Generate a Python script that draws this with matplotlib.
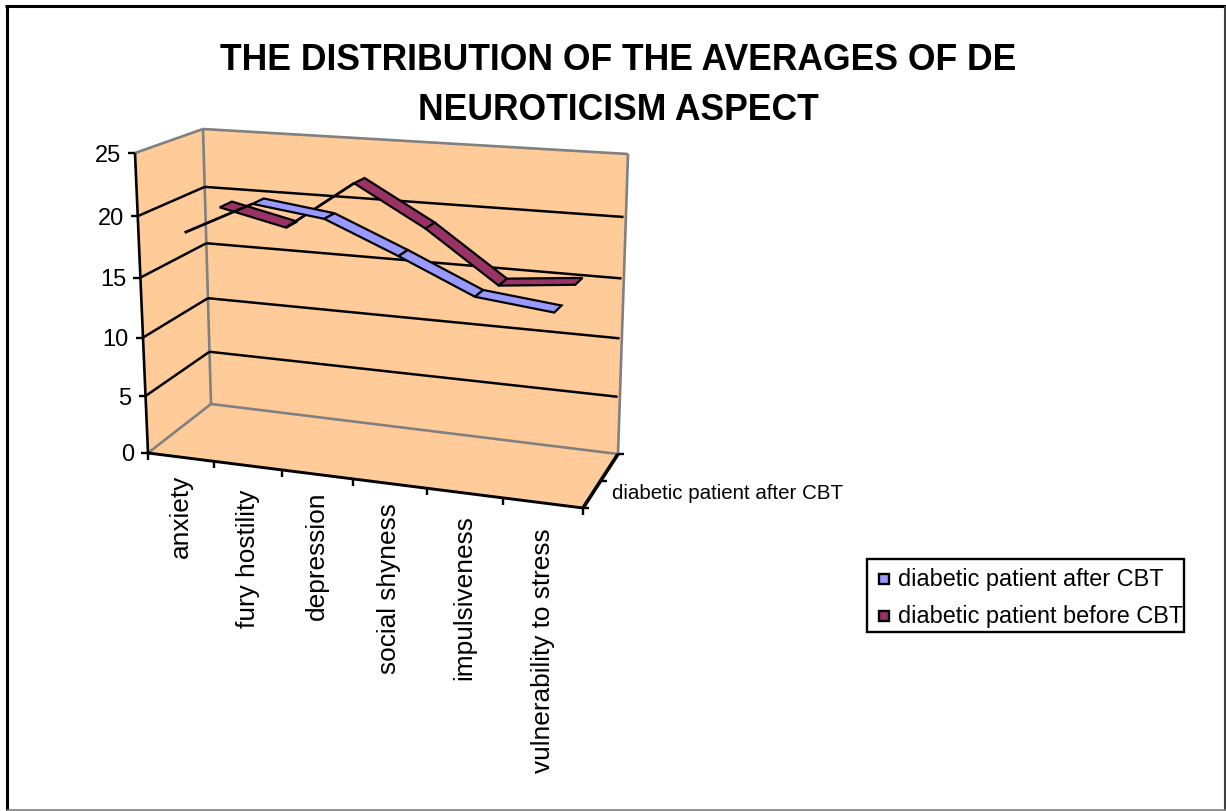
"""
3D style line chart, drawn on a flat axes with a small projection helper.
"""

import matplotlib

matplotlib.use("Agg")

import matplotlib.pyplot as plt
from matplotlib.patches import Polygon, Rectangle

# =====================================================
# Data
# =====================================================

title_lines = ["THE DISTRIBUTION OF THE AVERAGES OF DE", "NEUROTICISM ASPECT"]
categories = [
    "anxiety",
    "fury hostility",
    "depression",
    "social shyness",
    "impulsiveness",
    "vulnerability to stress",
]
after_cbt = [18.4, 21.1, 20.3, 17.8, 15.1, 14.4]
before_cbt = [19.1, 17.8, 21.9, 18.6, 14.4, 15.0]
value_ticks = [0, 5, 10, 15, 20, 25]
after_name = "diabetic patient after CBT"
before_name = "diabetic patient before CBT"

# =====================================================
# Projection
# =====================================================

WALL = "#FFCC99"
GRAY = "#808080"
AFTER_COLOR = "#9999FF"
BEFORE_COLOR = "#993366"

# box corners on the image: (front/back, left/right, bottom/top)
FL0, FR0, BL0, BR0 = (148, 454), (583, 509), (211, 405), (618, 455)
FL1, FR1, BL1, BR1 = (135, 154), (593, 179), (203, 130), (628, 155)
X_WARP = 1.123
V_WARP = 1.066
V_MAX = 25

# gap below the floor edge for each category label
LABEL_GAPS = [17, 23, 16, 19, 21, 24]


def warp(t, w):
    return t / (t + w * (1 - t))


def project(s, d, v):
    """s: 0-1 along categories, d: 0-1 front to back, v: axis value."""
    u = warp(s, X_WARP)
    t = warp(v / V_MAX, V_WARP)
    out = []
    for k in range(2):
        bottom = (1 - d) * ((1 - u) * FL0[k] + u * FR0[k]) + d * ((1 - u) * BL0[k] + u * BR0[k])
        top = (1 - d) * ((1 - u) * FL1[k] + u * FR1[k]) + d * ((1 - u) * BL1[k] + u * BR1[k])
        out.append((1 - t) * bottom + t * top)
    return out


def line(ax, p, q, color="black", lw=1.8, zorder=2):
    ax.plot([p[0], q[0]], [p[1], q[1]], color=color, lw=lw, zorder=zorder, solid_capstyle="butt")


def draw_ribbon(ax, values, color, d0, d1, zorder):
    n = len(values)
    for i in range(n - 1):
        s0 = (i + 0.5) / n
        s1 = (i + 1.5) / n
        # steeply rising pieces only show up as a thin line
        if values[i + 1] - values[i] > 1:
            line(ax, project(s0, d0, values[i]), project(s1, d0, values[i + 1]), lw=2.0, zorder=zorder)
            continue
        points = [
            project(s0, d0, values[i]),
            project(s1, d0, values[i + 1]),
            project(s1, d1, values[i + 1]),
            project(s0, d1, values[i]),
        ]
        ax.add_patch(
            Polygon(points, closed=True, facecolor=color, edgecolor="black", lw=1.6, zorder=zorder, joinstyle="miter")
        )


# =====================================================
# Figure
# =====================================================

plt.rcParams["font.family"] = ["Liberation Sans", "DejaVu Sans"]

fig = plt.figure(figsize=(12.26, 8.12), dpi=100)
ax = fig.add_axes([0, 0, 1, 1])
ax.set_xlim(0, 1226)
ax.set_ylim(812, 0)
ax.axis("off")

# outer frame
line(ax, (6.5, 811), (6.5, 6.5), lw=2.2)
line(ax, (5.4, 6.5), (1226, 6.5), lw=2.2)
line(ax, (1225, 6.5), (1225, 812), color="#404040", lw=1.5)
line(ax, (6.5, 811), (1226, 811), color=GRAY, lw=1.2)

# walls and floor
ax.add_patch(Polygon([FL0, BL0, BL1, FL1], closed=True, facecolor=WALL, edgecolor="none", zorder=1))
ax.add_patch(Polygon([BL0, BR0, BR1, BL1], closed=True, facecolor=WALL, edgecolor="none", zorder=1))
ax.add_patch(Polygon([FL0, FR0, BR0, BL0], closed=True, facecolor=WALL, edgecolor="none", zorder=1))

for p, q in [(FL1, BL1), (BL1, BR1), (BL1, BL0), (BR1, BR0), (FL0, BL0), (BL0, BR0)]:
    line(ax, p, q, color=GRAY, lw=1.9, zorder=2)

# gridlines
for v in value_ticks[1:-1]:
    line(ax, project(0, 0, v), project(0, 1, v), zorder=3)
    line(ax, project(0, 1, v), project(0.995, 1, v), zorder=3)

# axes
line(ax, project(0, 0, 0), project(0, 0, V_MAX), lw=1.9, zorder=3)
line(ax, project(0, 0, 0), project(1, 0, 0), lw=2.1, zorder=3)
line(ax, project(1, 0, 0), project(1, 1, 0), lw=2.6, zorder=3)

for v in value_ticks:
    p = project(0, 0, v)
    line(ax, (p[0] - 7, p[1]), p, lw=1.7, zorder=3)
    ax.text(p[0] - 14, p[1] + 1.5, str(v), fontsize=17, ha="right", va="center")

n_cat = len(categories)
for i in range(n_cat + 1):
    p = project(i / n_cat, 0, 0)
    line(ax, p, (p[0], p[1] + 7), lw=1.7, zorder=3)

for d in [0, 0.5, 1]:
    p = project(1, d, 0)
    line(ax, p, (p[0] + 6, p[1]), lw=1.7, zorder=3)

for i, name in enumerate(categories):
    p = project((i + 0.5) / n_cat, 0, 0)
    ax.text(p[0], p[1] + LABEL_GAPS[i], name, fontsize=18.9, rotation=90, ha="center", va="top")

depth_p = project(1, 0.5, 0)
ax.text(depth_p[0] + 11, depth_p[1] + 12, after_name, fontsize=14.8, ha="left", va="center")

# series, back one first
draw_ribbon(ax, before_cbt, BEFORE_COLOR, 0.74, 0.93, zorder=4)
draw_ribbon(ax, after_cbt, AFTER_COLOR, 0.19, 0.38, zorder=5)

# title
ax.text(618, 60, title_lines[0], fontsize=25.6, fontweight="bold", ha="center", va="center")
ax.text(618, 110, title_lines[1], fontsize=25.6, fontweight="bold", ha="center", va="center")

# legend
ax.add_patch(Rectangle((867, 559.5), 317, 73, facecolor="white", edgecolor="black", lw=1.7, zorder=6))
for y, name, color in [(580, after_name, AFTER_COLOR), (617, before_name, BEFORE_COLOR)]:
    ax.add_patch(Rectangle((879, y - 5), 10, 10, facecolor=color, edgecolor="black", lw=1.7, zorder=7))
    ax.text(898, y, name, fontsize=16.9, ha="left", va="center", zorder=7)

fig.savefig("out.png", dpi=100)
